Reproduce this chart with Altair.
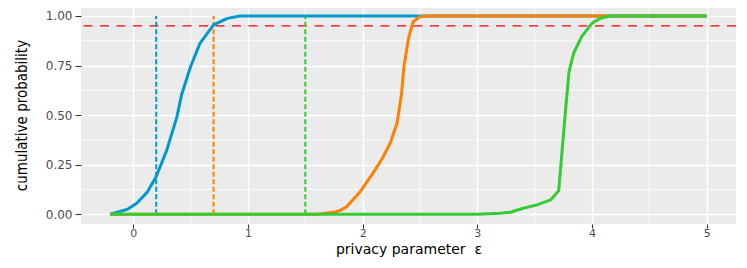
import altair as alt
import pandas as pd

# ---- data ----
blue_x = [-0.2, -0.05, 0.03, 0.12, 0.2, 0.29, 0.38, 0.42, 0.5, 0.58, 0.7, 0.82, 0.93, 1.2, 5.0]
blue_y = [0.0, 0.025, 0.055, 0.11, 0.19, 0.32, 0.49, 0.6, 0.745, 0.86, 0.955, 0.988, 1.0, 1.0, 1.0]

orange_x = [-0.2, 1.6, 1.75, 1.8, 1.86, 1.98, 2.09, 2.17, 2.24, 2.3, 2.34, 2.36, 2.4, 2.44, 2.5, 2.6, 5.0]
orange_y = [0.0, 0.0, 0.01, 0.018, 0.038, 0.114, 0.207, 0.28, 0.358, 0.459, 0.61, 0.744, 0.887, 0.971, 0.997, 1.0, 1.0]

green_x = [-0.2, 3.0, 3.2, 3.29, 3.4, 3.52, 3.64, 3.71, 3.74, 3.77, 3.8, 3.84, 3.91, 4.0, 4.07, 4.16, 5.0]
green_y = [0.0, 0.0, 0.005, 0.01, 0.03, 0.047, 0.072, 0.119, 0.324, 0.526, 0.719, 0.812, 0.896, 0.963, 0.988, 1.0, 1.0]

series_colors = ["#0099CC", "#FF8000", "#33CC33"]
vline_x = [0.2, 0.7, 1.5]
threshold = 0.95

x_major = [0, 1, 2, 3, 4, 5]
x_minor = [0.5, 1.5, 2.5, 3.5, 4.5]
y_major = [0.0, 0.25, 0.5, 0.75, 1.0]
y_minor = [0.125, 0.375, 0.625, 0.875]

xs = alt.Scale(domain=[-0.456, 5.256], nice=False, zero=False)
ys = alt.Scale(domain=[-0.0494, 1.0403], nice=False, zero=False)

x_title = "privacy parameter \u00a0ε"
y_title = "cumulative probability"

x_axis = alt.Axis(values=x_major, title=x_title, format="d",
                  grid=True, gridColor="white", gridWidth=1.4,
                  tickSize=4, tickWidth=1.1, tickColor="#333333",
                  labelPadding=-1, labelFont="DejaVu Sans", labelFontSize=11,
                  labelColor="#4D4D4D", domain=False,
                  titleFont="DejaVu Sans", titleFontSize=14, titleFontWeight="normal",
                  titleColor="black", titleBaseline="alphabetic", titleY=29)
y_axis = alt.Axis(values=y_major, title=y_title, format=".2f",
                  grid=True, gridColor="white", gridWidth=1.4,
                  tickSize=6, tickWidth=1.1, tickColor="#333333",
                  labelPadding=3, labelFont="DejaVu Sans", labelFontSize=12,
                  labelColor="#4D4D4D", domain=False,
                  titleFont="DejaVu Sans Condensed, Liberation Sans, sans-serif",
                  titleFontSize=15, titleFontWeight="normal",
                  titleColor="black", titleBaseline="alphabetic", titleX=-55, titleY=107,
                  titleAngle=-90)

X = lambda: alt.X("x:Q", scale=xs, axis=x_axis, title=x_title)
Y = lambda: alt.Y("y:Q", scale=ys, axis=y_axis, title=y_title)

minor_x_df = pd.DataFrame({"x": x_minor})
minor_y_df = pd.DataFrame({"y": y_minor})

minor_vx = alt.Chart(minor_x_df).mark_rule(color="white", strokeWidth=0.8).encode(x=X())
minor_hy = alt.Chart(minor_y_df).mark_rule(color="white", strokeWidth=0.8).encode(y=Y())

hline = alt.Chart(pd.DataFrame({"y": [threshold]})).mark_rule(
    color="#FF0000", strokeWidth=1.3, strokeDash=[9, 7.5]
).encode(y=Y())

vlines = []
for vx, col in zip(vline_x, series_colors):
    vdf = pd.DataFrame({"x": [vx], "y": [0.0], "y2": [1.0]})
    vlines.append(
        alt.Chart(vdf).mark_rule(color=col, strokeWidth=2, strokeDash=[5, 2.5]).encode(
            x=X(), y=Y(), y2="y2:Q",
        )
    )

curves = []
for cx, cy, col in zip([blue_x, orange_x, green_x], [blue_y, orange_y, green_y], series_colors):
    cdf = pd.DataFrame({"x": cx, "y": cy})
    curves.append(
        alt.Chart(cdf).mark_line(color=col, strokeWidth=3, strokeJoin="round", strokeCap="butt").encode(
            x=X(), y=Y(),
        )
    )

chart = alt.layer(minor_vx, minor_hy, hline, *vlines, *curves).properties(
    width=655, height=216,
    autosize=alt.AutoSizeParams(type="none"),
    padding={"left": 73, "top": 0, "right": 3, "bottom": 40},
    background="white",
).configure_view(fill="#EBEBEB", stroke=None)

chart.save("out.html", embed_options={"renderer": "svg", "actions": False})
